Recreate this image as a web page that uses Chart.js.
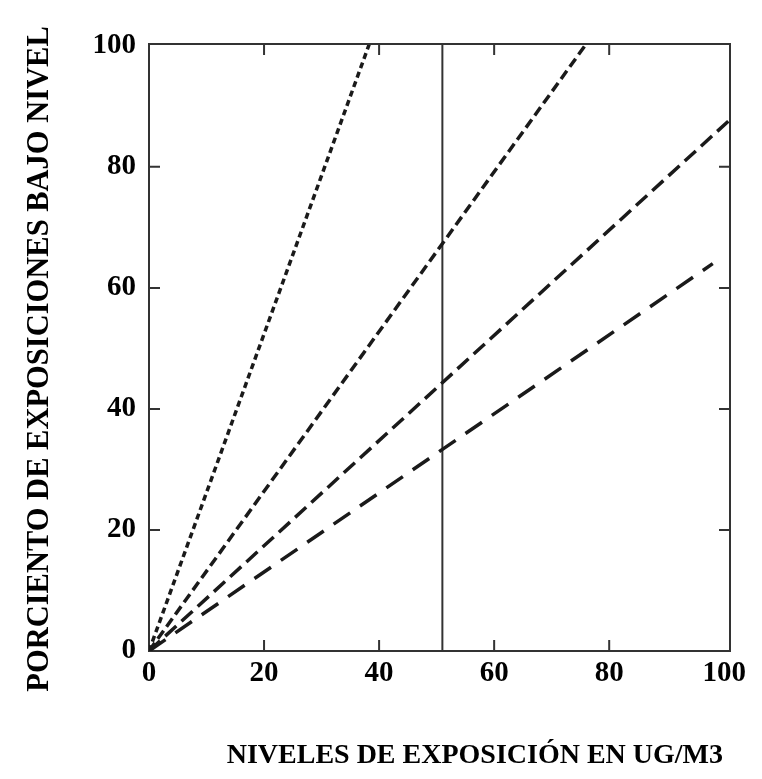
<!DOCTYPE html>
<html>
<head>
<meta charset="utf-8">
<title>Porciento de exposiciones bajo nivel</title>
<script src="https://cdn.jsdelivr.net/npm/chart.js@4"></script>
<style>
  html, body { margin: 0; padding: 0; background: #fff; }
  #wrap { width: 762px; height: 779px; }
</style>
</head>
<body>
<div id="wrap"><canvas id="myChart" width="762" height="779"></canvas></div>
<script>
// Tick values for both axes
const xTicks = [0, 20, 40, 60, 80, 100];
const yTicks = [0, 20, 40, 60, 80, 100];

// Each curve runs from the origin to where it leaves the frame
const lineA = [{ x: 0, y: 0 }, { x: 38.3, y: 100.3 }];
const lineB = [{ x: 0, y: 0 }, { x: 76, y: 100.3 }];
const lineC = [{ x: 0, y: 0 }, { x: 101, y: 87.8 }];
const lineD = [{ x: 0, y: 0 }, { x: 98, y: 64 }];

// Reference level (vertical line)
const refLevel = 51;

const ink = "#1a1a1a";
const frame = "#333";
const serif = "'Liberation Serif', 'Times New Roman', serif";

// Top/right frame lines plus inward tick marks on all four sides
const frameTicks = {
  id: "frameTicks",
  afterDraw(chart) {
    const { ctx, chartArea: a, scales } = chart;
    const len = 11;
    ctx.save();
    ctx.strokeStyle = frame;
    ctx.lineWidth = 2;
    ctx.beginPath();
    ctx.moveTo(a.left, a.top);
    ctx.lineTo(a.right, a.top);
    ctx.lineTo(a.right, a.bottom);
    ctx.stroke();
    ctx.beginPath();
    xTicks.slice(1, -1).forEach((v) => {
      const px = scales.x.getPixelForValue(v);
      ctx.moveTo(px, a.bottom);
      ctx.lineTo(px, a.bottom - len);
      ctx.moveTo(px, a.top);
      ctx.lineTo(px, a.top + len);
    });
    yTicks.slice(1, -1).forEach((v) => {
      const py = scales.y.getPixelForValue(v);
      ctx.moveTo(a.left, py);
      ctx.lineTo(a.left + len, py);
      ctx.moveTo(a.right, py);
      ctx.lineTo(a.right - len, py);
    });
    ctx.stroke();
    ctx.restore();
  },
};

function curve(data, dash) {
  return {
    data,
    showLine: true,
    borderColor: ink,
    borderWidth: 3.5,
    borderDash: dash,
    borderCapStyle: "butt",
    pointRadius: 0,
    fill: false,
  };
}

const ctx = document.getElementById("myChart").getContext("2d");
new Chart(ctx, {
  type: "scatter",
  data: {
    datasets: [
      curve(lineA, [6, 4]),
      curve(lineB, [10, 5]),
      curve(lineC, [15, 7]),
      curve(lineD, [20, 12]),
      {
        data: [{ x: refLevel, y: 0 }, { x: refLevel, y: 100.3 }],
        showLine: true,
        borderColor: frame,
        borderWidth: 2,
        pointRadius: 0,
      },
    ],
  },
  options: {
    responsive: false,
    animation: false,
    layout: { padding: { top: 44, right: 32, left: 0, bottom: 0 } },
    plugins: { legend: { display: false }, tooltip: { enabled: false } },
    scales: {
      x: {
        type: "linear",
        min: 0,
        max: 101,
        afterBuildTicks: (s) => { s.ticks = xTicks.map((v) => ({ value: v })); },
        afterFit: (s) => { s.height = 128; },
        grid: { display: false, drawTicks: false },
        border: { display: true, color: frame, width: 2 },
        ticks: {
          color: "#000",
          padding: 5,
          maxRotation: 0,
          font: { family: serif, size: 29, weight: "bold" },
        },
        title: {
          display: true,
          text: "NIVELES DE EXPOSICIÓN EN UG/M3\u00a0",
          align: "end",
          color: "#000",
          padding: { top: 0, bottom: 6 },
          font: { family: serif, size: 28, weight: "bold" },
        },
      },
      y: {
        type: "linear",
        min: 0,
        max: 100.3,
        afterBuildTicks: (s) => { s.ticks = yTicks.map((v) => ({ value: v })); },
        afterFit: (s) => { s.width = 149; },
        grid: { display: false, drawTicks: false },
        border: { display: true, color: frame, width: 2 },
        ticks: {
          color: "#000",
          padding: 13,
          font: { family: serif, size: 29, weight: "bold" },
        },
        title: {
          display: true,
          text: "PORCIENTO DE EXPOSICIONES BAJO NIVEL\u00a0\u00a0\u00a0",
          color: "#000",
          padding: { top: 22, bottom: 0 },
          font: { family: serif, size: 30.5, weight: "bold" },
        },
      },
    },
  },
  plugins: [frameTicks],
});
</script>
</body>
</html>
